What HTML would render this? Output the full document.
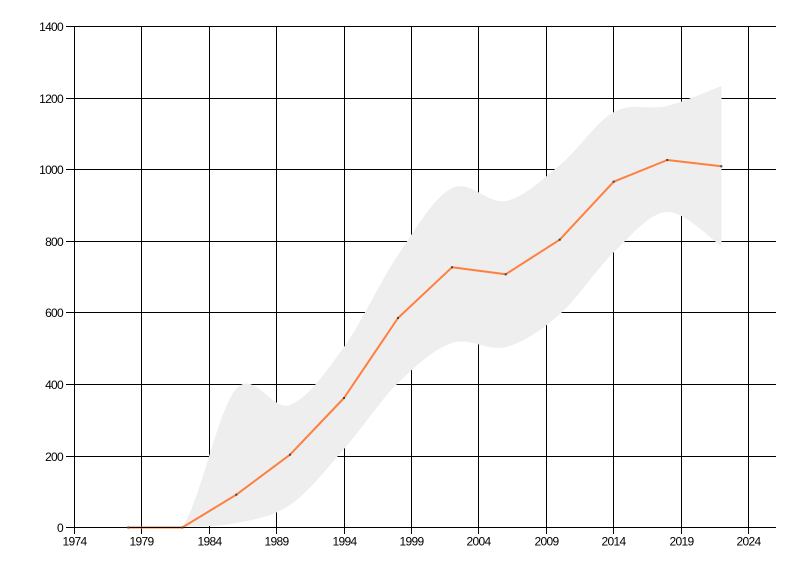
<!DOCTYPE html>
<html>
<head>
<meta charset="utf-8">
<style>
html,body{margin:0;padding:0;background:#fff;}
svg{display:block;}
text{font-family:"Liberation Sans",Arial,sans-serif;font-size:12px;fill:#000;letter-spacing:-0.7px;}
</style>
</head>
<body>
<svg width="800" height="576" viewBox="0 0 800 576" xmlns="http://www.w3.org/2000/svg">
<rect x="0" y="0" width="800" height="576" fill="#fff"/>
<!-- horizontal gridlines -->
<g stroke="#000" stroke-width="1" shape-rendering="crispEdges">
<line x1="66" y1="26.5" x2="776" y2="26.5"/>
<line x1="66" y1="98.5" x2="776" y2="98.5"/>
<line x1="66" y1="169.5" x2="776" y2="169.5"/>
<line x1="66" y1="241.5" x2="776" y2="241.5"/>
<line x1="66" y1="312.5" x2="776" y2="312.5"/>
<line x1="66" y1="384.5" x2="776" y2="384.5"/>
<line x1="66" y1="456.5" x2="776" y2="456.5"/>
<!-- vertical gridlines -->
<line x1="141.5" y1="26" x2="141.5" y2="534"/>
<line x1="209.5" y1="26" x2="209.5" y2="534"/>
<line x1="276.5" y1="26" x2="276.5" y2="534"/>
<line x1="344.5" y1="26" x2="344.5" y2="534"/>
<line x1="411.5" y1="26" x2="411.5" y2="534"/>
<line x1="478.5" y1="26" x2="478.5" y2="534"/>
<line x1="546.5" y1="26" x2="546.5" y2="534"/>
<line x1="613.5" y1="26" x2="613.5" y2="534"/>
<line x1="681.5" y1="26" x2="681.5" y2="534"/>
<line x1="748.5" y1="26" x2="748.5" y2="534"/>
</g>
<!-- band -->
<path fill="#eeeeee" stroke="none" d="M182,527 C200,504 218,409.3 236,389 C254,368.7 272,412 290,405 C308,398 326,372 344,347 C362,322 380,281.5 398,255 C416,228.5 434,197 452,188 C470,179 488,204.8 506,201 C524,197.2 542,179.8 560,165 C578,150.2 596.2,121.8 614,112 C631.8,102.2 649.2,110.3 667,106 C684.8,101.7 712,89.3 721.5,86 L721.5,246 C712,240.3 684.8,211 667,212 C649.2,213 631.8,235 614,252 C596.2,269 578,298.2 560,314 C542,329.8 524,342.2 506,347 C488,351.8 470,337 452,343 C434,349 416,365.3 398,383 C380,400.7 362,428.7 344,449 C326,469.3 308,492.7 290,505 C272,517.3 254,519.3 236,523 C218,526.7 200,526.3 182,527 Z"/>
<!-- series line -->
<polyline fill="none" stroke="#ff7f3f" stroke-width="2" stroke-linejoin="round" points="128.3,527.5 182.3,527.5 236.3,494.7 290,454.7 344,398 398,318 452,267.3 505.7,274.3 559.7,239.7 613.7,181.7 667.3,160 721.3,166.3"/>
<!-- axes -->
<g stroke="#000" stroke-width="1" shape-rendering="crispEdges">
<line x1="66" y1="527.5" x2="776" y2="527.5"/>
<line x1="74.5" y1="26" x2="74.5" y2="534"/>
</g>
<!-- points -->
<g fill="#444">
<rect x="127.3" y="526.5" width="2" height="2"/>
<rect x="181.3" y="526.5" width="2" height="2"/>
<rect x="235.3" y="493.7" width="2" height="2"/>
<rect x="289" y="453.7" width="2" height="2"/>
<rect x="343" y="397" width="2" height="2"/>
<rect x="397" y="317" width="2" height="2"/>
<rect x="451" y="266.3" width="2" height="2"/>
<rect x="504.7" y="273.3" width="2" height="2"/>
<rect x="558.7" y="238.7" width="2" height="2"/>
<rect x="612.7" y="180.7" width="2" height="2"/>
<rect x="666.3" y="159" width="2" height="2"/>
<rect x="720.3" y="165.3" width="2" height="2"/>
</g>
<!-- y labels -->
<g text-anchor="end">
<text x="63" y="31">1400</text>
<text x="63" y="103">1200</text>
<text x="63" y="174">1000</text>
<text x="63" y="246">800</text>
<text x="63" y="317">600</text>
<text x="63" y="389">400</text>
<text x="63" y="461">200</text>
<text x="63" y="532">0</text>
</g>
<!-- x labels -->
<g text-anchor="middle">
<text x="74.5" y="545.5">1974</text>
<text x="141.5" y="545.5">1979</text>
<text x="209.5" y="545.5">1984</text>
<text x="276.5" y="545.5">1989</text>
<text x="344.5" y="545.5">1994</text>
<text x="411.5" y="545.5">1999</text>
<text x="478.5" y="545.5">2004</text>
<text x="546.5" y="545.5">2009</text>
<text x="613.5" y="545.5">2014</text>
<text x="681.5" y="545.5">2019</text>
<text x="748.5" y="545.5">2024</text>
</g>
</svg>
</body>
</html>
